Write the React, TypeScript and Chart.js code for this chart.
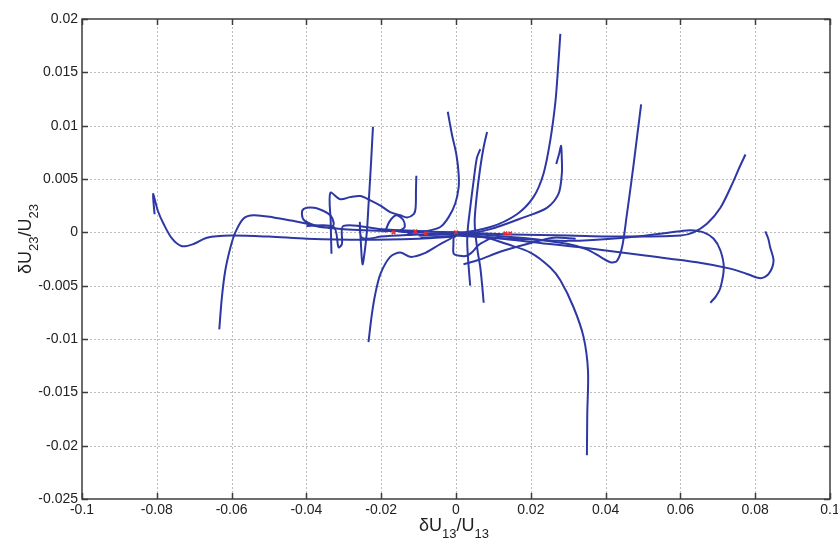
import React, { useEffect, useRef } from 'react';
import { Chart, registerables } from 'chart.js';
Chart.register(...registerables);

// ---- axis ranges / ticks ----
const X_MIN = -0.1;
const X_MAX = 0.1;
const X_STEP = 0.02;
const Y_MIN = -0.025;
const Y_MAX = 0.02;
const Y_STEP = 0.005;

const X_TITLE = [['δU', false], ['13', true], ['/U', false], ['13', true]];
const Y_TITLE = [['δU', false], ['23', true], ['/U', false], ['23', true]];

// ---- trajectories (δU13/U13, δU23/U23) ----
const trajA = [[-0.0806,0.0017],[-0.0810,0.0036],[-0.0797,0.0020],[-0.0782,0.0008],[-0.0759,-0.0006],[-0.0733,-0.0013],[-0.0702,-0.0011],[-0.0666,-0.0005],[-0.0603,-0.0003],[-0.0500,-0.0004],[-0.0398,-0.0006],[-0.0250,-0.0007],[-0.0100,-0.0006],[0.0000,-0.0004]];
const trajB = [[-0.0633,-0.0091],[-0.0626,-0.0061],[-0.0617,-0.0036],[-0.0603,-0.0014],[-0.0590,0.0000],[-0.0568,0.0013],[-0.0541,0.0016],[-0.0488,0.0014],[-0.0440,0.0011],[-0.0398,0.0008],[-0.0363,0.0005],[-0.0331,0.0005],[-0.0327,0.0009],[-0.0336,0.0016],[-0.0354,0.0020],[-0.0380,0.0023],[-0.0407,0.0022],[-0.0412,0.0017],[-0.0405,0.0011],[-0.0370,0.0006],[-0.0300,0.0003],[-0.0150,0.0001],[0.0000,0.0000]];
const trajC = [[-0.0222,0.0099],[-0.0228,0.0060],[-0.0234,0.0025],[-0.0238,0.0002],[-0.0243,-0.0015],[-0.0250,-0.0030],[-0.0254,-0.0012],[-0.0257,0.0009],[-0.0254,-0.0004],[-0.0235,-0.0006],[-0.0200,-0.0004],[-0.0100,-0.0002],[0.0000,0.0000]];
const trajD = [[-0.0234,-0.0103],[-0.0225,-0.0077],[-0.0216,-0.0058],[-0.0202,-0.0039],[-0.0176,-0.0023],[-0.0149,-0.0019],[-0.0122,-0.0023],[-0.0087,-0.0020],[-0.0042,-0.0011],[-0.0015,-0.0006],[0.0000,-0.0002]];
const trajE = [[-0.0333,-0.0020],[-0.0335,0.0010],[-0.0336,0.0037],[-0.0309,0.0031],[-0.0283,0.0033],[-0.0256,0.0034],[-0.0229,0.0030],[-0.0202,0.0025],[-0.0176,0.0019],[-0.0149,0.0016],[-0.0131,0.0014],[-0.0113,0.0017],[-0.0108,0.0023],[-0.0107,0.0040],[-0.0106,0.0053]];
const trajHump = [[-0.0190,0.0000],[-0.0178,0.0010],[-0.0160,0.0016],[-0.0142,0.0012],[-0.0137,0.0005],[-0.0150,0.0001],[-0.0100,0.0000]];
const trajV = [[-0.0400,0.0006],[-0.0327,0.0005],[-0.0314,-0.0014],[-0.0305,-0.0011],[-0.0301,0.0006],[-0.0200,0.0003],[-0.0080,0.0001]];
const trajF = [[-0.0022,0.0113],[-0.0011,0.0092],[0.0001,0.0073],[0.0007,0.0055],[0.0007,0.0042],[-0.0002,0.0027],[-0.0020,0.0014],[-0.0042,0.0005],[-0.0080,0.0001],[-0.0130,-0.0001]];
const trajG1 = [[0.0083,0.0094],[0.0074,0.0080],[0.0065,0.0061],[0.0056,0.0036],[0.0050,0.0012],[0.0052,-0.0002],[0.0058,-0.0018],[0.0065,-0.0033],[0.0070,-0.0050],[0.0074,-0.0066]];
const trajG2 = [[0.0065,0.0078],[0.0056,0.0070],[0.0047,0.0048],[0.0038,0.0023],[0.0032,0.0005],[0.0030,-0.0010],[0.0034,-0.0033],[0.0038,-0.0050]];
const trajH = [[0.0279,0.0186],[0.0273,0.0155],[0.0266,0.0123],[0.0252,0.0086],[0.0234,0.0055],[0.0207,0.0033],[0.0163,0.0017],[0.0092,0.0005],[0.0000,-0.0001],[-0.0100,-0.0003]];
const trajI = [[0.0268,0.0064],[0.0276,0.0074],[0.0281,0.0081],[0.0283,0.0068],[0.0283,0.0055],[0.0274,0.0036],[0.0243,0.0023],[0.0181,0.0014],[0.0092,0.0003],[0.0000,-0.0003],[-0.0095,-0.0005]];
const trajJ = [[0.0495,0.0120],[0.0485,0.0092],[0.0475,0.0064],[0.0466,0.0040],[0.0457,0.0017],[0.0444,-0.0014],[0.0430,-0.0027],[0.0413,-0.0028],[0.0386,-0.0023],[0.0350,-0.0016],[0.0300,-0.0011],[0.0200,-0.0006],[0.0100,-0.0003],[0.0000,0.0000]];
const trajK = [[0.0774,0.0073],[0.0758,0.0061],[0.0742,0.0048],[0.0707,0.0023],[0.0671,0.0008],[0.0635,0.0000],[0.0600,-0.0003],[0.0450,-0.0004],[0.0300,-0.0003],[0.0150,-0.0002],[0.0000,0.0000]];
const trajL = [[0.0680,-0.0066],[0.0695,-0.0060],[0.0707,-0.0052],[0.0716,-0.0033],[0.0707,-0.0017],[0.0689,-0.0006],[0.0662,0.0000],[0.0626,0.0002],[0.0600,0.0001],[0.0450,-0.0005],[0.0300,-0.0008],[0.0150,-0.0006],[0.0000,-0.0003]];
const trajM = [[0.0827,0.0001],[0.0835,-0.0006],[0.0840,-0.0014],[0.0849,-0.0027],[0.0836,-0.0039],[0.0814,-0.0043],[0.0778,-0.0039],[0.0733,-0.0034],[0.0644,-0.0028],[0.0511,-0.0022],[0.0332,-0.0014],[0.0200,-0.0009],[0.0100,-0.0005],[0.0000,-0.0002]];
const trajN = [[0.0350,-0.0209],[0.0351,-0.0170],[0.0353,-0.0130],[0.0341,-0.0098],[0.0314,-0.0070],[0.0279,-0.0045],[0.0252,-0.0033],[0.0199,-0.0019],[0.0136,-0.0011],[0.0083,-0.0005],[0.0000,0.0000]];
const trajP = [[0.0020,-0.0030],[0.0060,-0.0026],[0.0120,-0.0018],[0.0200,-0.0010],[0.0260,-0.0005],[0.0320,-0.0006]];
const trajR = [[-0.0006,0.0000],[-0.0007,-0.0012],[-0.0006,-0.0020],[0.0010,-0.0022],[0.0029,-0.0022],[0.0045,-0.0018],[0.0060,-0.0012],[0.0090,-0.0006]];

const TRAJECTORIES = [trajA, trajB, trajC, trajD, trajE, trajHump, trajV, trajF, trajG1, trajG2, trajH, trajI, trajJ, trajK, trajL, trajM, trajN, trajP, trajR];

// final states (red markers)
const END_POINTS = [[-0.0167,0.0000],[-0.0109,0.0001],[-0.0080,-0.0001],[0.0000,0.0000],[0.0132,-0.0001],[0.0145,-0.0001]];

const LINE_COLOR = '#2d38a4';
const FONT = '"Liberation Sans", Arial, Helvetica, sans-serif';

function drawTitle(ctx, parts, cx, baseY) {
  const mainFont = '18px ' + FONT;
  const subFont = '13px ' + FONT;
  let w = 0;
  for (const [t, sub] of parts) {
    ctx.font = sub ? subFont : mainFont;
    w += ctx.measureText(t).width;
  }
  let x = cx - w / 2;
  ctx.textAlign = 'left';
  ctx.textBaseline = 'alphabetic';
  for (const [t, sub] of parts) {
    ctx.font = sub ? subFont : mainFont;
    ctx.fillText(t, x, baseY + (sub ? 7 : 0));
    x += ctx.measureText(t).width;
  }
}

const matlabFrame = {
  id: 'matlabFrame',
  beforeDatasetsDraw(chart) {
    const { ctx, chartArea: a, scales } = chart;
    const xs = scales.x, ys = scales.y;
    ctx.save();
    ctx.strokeStyle = '#bcbcbc';
    ctx.lineWidth = 1;
    ctx.setLineDash([2, 2]);
    xs.ticks.forEach((t) => {
      const px = Math.round(xs.getPixelForValue(t.value)) + 0.5;
      if (px <= a.left + 2 || px >= a.right - 2) return;
      ctx.beginPath(); ctx.moveTo(px, a.top); ctx.lineTo(px, a.bottom); ctx.stroke();
    });
    ys.ticks.forEach((t) => {
      const py = Math.round(ys.getPixelForValue(t.value)) + 0.5;
      if (py <= a.top + 2 || py >= a.bottom - 2) return;
      ctx.beginPath(); ctx.moveTo(a.left, py); ctx.lineTo(a.right, py); ctx.stroke();
    });
    ctx.restore();
  },
  afterDatasetsDraw(chart) {
    const { ctx, chartArea: a, scales } = chart;
    const xs = scales.x, ys = scales.y;
    ctx.save();
    ctx.setLineDash([]);
    ctx.strokeStyle = '#3c3c3c';
    ctx.lineWidth = 1.5;
    ctx.strokeRect(a.left, a.top, a.right - a.left, a.bottom - a.top);
    const TL = 6;
    ctx.lineWidth = 1.5;
    xs.ticks.forEach((t) => {
      const px = Math.round(xs.getPixelForValue(t.value)) + 0.5;
      ctx.beginPath(); ctx.moveTo(px, a.bottom); ctx.lineTo(px, a.bottom - TL); ctx.stroke();
      ctx.beginPath(); ctx.moveTo(px, a.top); ctx.lineTo(px, a.top + TL); ctx.stroke();
    });
    ys.ticks.forEach((t) => {
      const py = Math.round(ys.getPixelForValue(t.value)) + 0.5;
      ctx.beginPath(); ctx.moveTo(a.left, py); ctx.lineTo(a.left + TL, py); ctx.stroke();
      ctx.beginPath(); ctx.moveTo(a.right, py); ctx.lineTo(a.right - TL, py); ctx.stroke();
    });
    // axis titles
    ctx.fillStyle = '#222';
    drawTitle(ctx, X_TITLE, (a.left + a.right) / 2 - 2, 531);
    ctx.save();
    ctx.translate(31, 239);
    ctx.rotate(-Math.PI / 2);
    drawTitle(ctx, Y_TITLE, 0, 0);
    ctx.restore();
    ctx.restore();
  },
};

const fmt = (digits) => (v) => {
  const r = Math.round(Number(v) * Math.pow(10, digits)) / Math.pow(10, digits);
  return String(r === 0 ? 0 : r);
};

export default function App() {
  const ref = useRef(null);
  useEffect(() => {
    const datasets = [
      {
        label: 'final state',
        data: END_POINTS.map(([x, y]) => ({ x, y })),
        showLine: false,
        pointStyle: 'crossRot',
        pointRadius: 2.5,
        pointBorderWidth: 1.5,
        borderColor: '#e0303a',
        backgroundColor: '#e0303a',
      },
      ...TRAJECTORIES.map((tr, i) => ({
        label: 'trajectory ' + (i + 1),
        data: tr.map(([x, y]) => ({ x, y })),
        showLine: true,
        pointRadius: 0,
        borderColor: LINE_COLOR,
        backgroundColor: LINE_COLOR,
        borderWidth: 2,
        tension: 0.3,
        fill: false,
      })),
    ];
    const chart = new Chart(ref.current, {
      type: 'scatter',
      data: { datasets },
      options: {
        animation: false,
        responsive: false,
        devicePixelRatio: 1,
        layout: { padding: { left: 0, right: 8, top: 19, bottom: 0 } },
        plugins: { legend: { display: false }, tooltip: { enabled: false }, title: { display: false } },
        scales: {
          x: {
            type: 'linear',
            min: X_MIN,
            max: X_MAX,
            grid: { display: false, drawTicks: false, tickLength: 0 },
            border: { display: false },
            ticks: {
              stepSize: X_STEP,
              autoSkip: false,
              maxRotation: 0,
              padding: 3,
              color: '#222',
              font: { family: FONT, size: 14 },
              callback: fmt(3),
            },
            afterFit: (s) => { s.height = 43; s.paddingLeft = 0; s.paddingRight = 0; },
          },
          y: {
            type: 'linear',
            min: Y_MIN,
            max: Y_MAX,
            grid: { display: false, drawTicks: false, tickLength: 0 },
            border: { display: false },
            ticks: {
              stepSize: Y_STEP,
              autoSkip: false,
              padding: 4,
              color: '#222',
              font: { family: FONT, size: 14 },
              callback: fmt(4),
            },
            afterFit: (s) => { s.width = 82; s.paddingTop = 0; s.paddingBottom = 0; },
          },
        },
      },
      plugins: [matlabFrame],
    });
    return () => chart.destroy();
  }, []);
  return (
    <div style={{ position: 'fixed', left: 0, top: 0, width: 838, height: 542, background: '#fff' }}>
      <canvas ref={ref} width={838} height={542} style={{ width: 838, height: 542, display: 'block' }} />
    </div>
  );
}
